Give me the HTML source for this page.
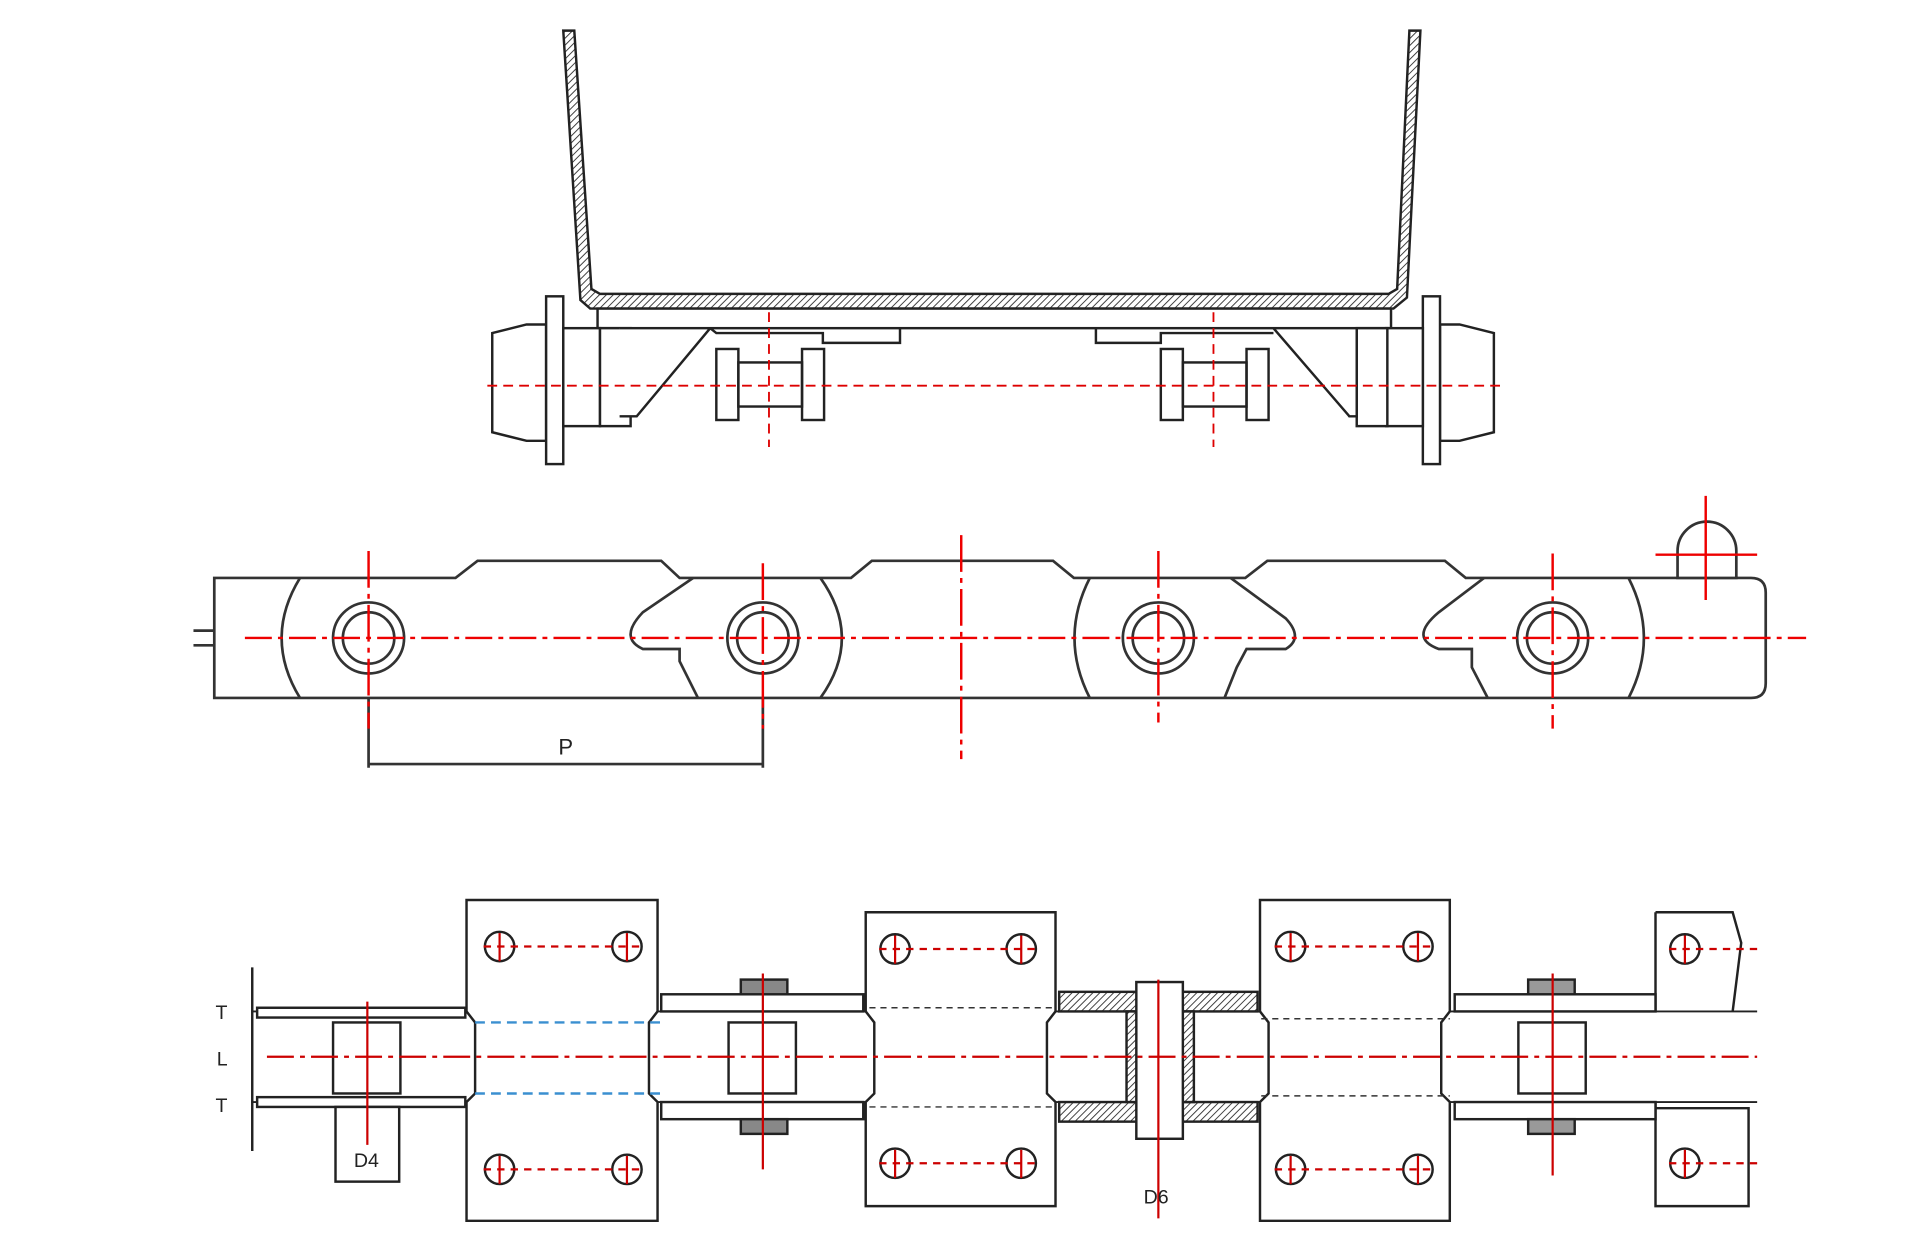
<!DOCTYPE html>
<html><head><meta charset="utf-8"><style>html,body{margin:0;padding:0;background:#fff}svg{display:block}</style></head>
<body>
<svg width="1920" height="1260" viewBox="0 0 1568 1029" xmlns="http://www.w3.org/2000/svg" font-family="Liberation Sans, sans-serif">
<defs>
<pattern id="h" width="4" height="4" patternUnits="userSpaceOnUse" patternTransform="rotate(45)"><rect width="4" height="4" fill="#fff"/><line x1="0" y1="0" x2="0" y2="4" stroke="#333" stroke-width="1.5"/></pattern>
</defs>
<rect width="1568" height="1029" fill="#fff"/>
<g stroke="#222" stroke-width="2" fill="none">
<polygon points="460,25 469,25 483,236 490,240 1134,240 1141,236 1151,25 1160,25 1149,243 1138,252 482,252 474,245" fill="url(#h)"/>
<rect x="488" y="252" width="648" height="16" fill="#fff"/>
<path d="M402,272 L430,265 L446,265 L446,360 L430,360 L402,353 Z" fill="#fff"/>
<rect x="446" y="242" width="14" height="137" fill="#fff"/>
<rect x="460" y="268" width="30" height="80" fill="#fff"/>
<rect x="490" y="268" width="25" height="80" fill="#fff"/>
<path d="M506,268 L580,268 L520,340 L506,340" fill="#fff"/>
<path d="M1106,268 L1060,268 L1102,340 L1118,340"/>
<path d="M1220,272 L1192,265 L1176,265 L1176,360 L1192,360 L1220,353 Z" fill="#fff"/>
<rect x="1162" y="242" width="14" height="137" fill="#fff"/>
<rect x="1132" y="268" width="30" height="80" fill="#fff"/>
<rect x="1108" y="268" width="25" height="80" fill="#fff"/>
<path d="M1040,268 L1108,268 L1108,340 L1102,340 Z" fill="#fff"/>
<path d="M580,268 L585,272 L672,272 L672,280 L735,280 L735,268"/>
<path d="M895,268 L895,280 L948,280 L948,272 L1040,272"/>
<rect x="585" y="285" width="18" height="58" fill="#fff"/><rect x="655" y="285" width="18" height="58" fill="#fff"/>
<rect x="603" y="296" width="52" height="36"/>
<rect x="948" y="285" width="18" height="58" fill="#fff"/><rect x="1018" y="285" width="18" height="58" fill="#fff"/>
<rect x="966" y="296" width="52" height="36"/>
</g>
<g stroke="#d00" stroke-width="1.5" stroke-dasharray="8,5" fill="none">
<line x1="398" y1="315" x2="1230" y2="315"/>
<line x1="628" y1="255" x2="628" y2="365"/><line x1="991" y1="255" x2="991" y2="365"/>
</g>
<g stroke="#333" stroke-width="2.2" fill="none">
<path d="M175,472 L372,472 L390,458 L540,458 L555,472 L695,472 L712,458 L860,458 L877,472 L1017,472 L1035,458 L1180,458 L1197,472 L1430,472 Q1442,472 1442,484 L1442,558 Q1442,570 1430,570 L175,570 Z" fill="#fff"/>
<path d="M245,472 Q215,521 245,570"/>
<path d="M670,472 Q705,521 670,570"/>
<path d="M566,472 L525,500 Q505,521 525,530 L555,530 L555,540 L570,570"/>
<path d="M890,472 Q865,521 890,570"/>
<path d="M1005,472 L1050,505 Q1065,521 1050,530 L1018,530 L1010,545 L1000,570"/>
<path d="M1212,472 L1175,500 Q1150,521 1175,530 L1202,530 L1202,545 L1215,570"/>
<path d="M1330,472 Q1355,521 1330,570"/>
<path d="M1370,450 A24,24 0 0 1 1418,450 L1418,472 L1370,472 Z" fill="#fff"/>
<line x1="158" y1="515" x2="175" y2="515"/><line x1="158" y1="527" x2="175" y2="527"/>
<g fill="#fff"><circle cx="301" cy="521" r="29"/><circle cx="623" cy="521" r="29"/><circle cx="946" cy="521" r="29"/><circle cx="1268" cy="521" r="29"/></g>
<circle cx="301" cy="521" r="21"/><circle cx="623" cy="521" r="21"/><circle cx="946" cy="521" r="21"/><circle cx="1268" cy="521" r="21"/>
<path d="M301,570 L301,627 M623,570 L623,627 M301,624 L623,624"/>
</g>
<text x="456" y="616" font-size="18" fill="#222">P</text>
<g stroke="#e00" stroke-width="2" fill="none">
<line x1="200" y1="521" x2="1475" y2="521" stroke-dasharray="22,5,4,5"/>
<line x1="301" y1="450" x2="301" y2="595" stroke-dasharray="30,5,4,5"/>
<line x1="623" y1="460" x2="623" y2="595" stroke-dasharray="30,5,4,5"/>
<line x1="946" y1="450" x2="946" y2="590" stroke-dasharray="30,5,4,5"/>
<line x1="1268" y1="452" x2="1268" y2="595" stroke-dasharray="30,5,4,5"/>
<line x1="785" y1="437" x2="785" y2="620" stroke-dasharray="30,5,4,5"/>
<line x1="1393" y1="405" x2="1393" y2="490"/><line x1="1352" y1="453" x2="1435" y2="453"/>
</g>
<g stroke="#222" stroke-width="2" fill="none">
<path d="M205,826 L1435,826 M205,900 L1435,900" stroke-width="1.5"/>
<rect x="210" y="823" width="170" height="8" fill="#fff"/><rect x="210" y="896" width="170" height="8" fill="#fff"/>
<path d="M381,735 L537,735 L537,826 L530,835 L530,893 L537,900 L537,997 L381,997 L381,900 L388,893 L388,835 L381,826 Z" fill="#fff"/>
<path d="M707,745 L862,745 L862,826 L855,835 L855,893 L862,900 L862,985 L707,985 L707,900 L714,893 L714,835 L707,826 Z" fill="#fff"/>
<path d="M1029,735 L1184,735 L1184,826 L1177,835 L1177,893 L1184,900 L1184,997 L1029,997 L1029,900 L1036,893 L1036,835 L1029,826 Z" fill="#fff"/>
<path d="M1352,745 L1415,745 L1422,770 L1415,826 M1352,745 L1352,826"/>
<path d="M1352,900 L1352,985 L1428,985 L1428,905 L1345,905"/>
<rect x="540" y="812" width="165" height="14" fill="#fff"/><rect x="540" y="900" width="165" height="14" fill="#fff"/>
<rect x="1188" y="812" width="164" height="14" fill="#fff"/><rect x="1188" y="900" width="164" height="14" fill="#fff"/>
<rect x="865" y="810" width="162" height="16" fill="url(#h)"/><rect x="865" y="900" width="162" height="16" fill="url(#h)"/>
<rect x="920" y="826" width="55" height="74" fill="url(#h)"/>
<rect x="928" y="802" width="38" height="128" fill="#fff"/>
<rect x="595" y="835" width="55" height="58" fill="#fff"/>
<rect x="605" y="800" width="38" height="12" fill="#888"/><rect x="605" y="914" width="38" height="12" fill="#888"/>
<rect x="1240" y="835" width="55" height="58" fill="#fff"/>
<rect x="1248" y="800" width="38" height="12" fill="#999"/><rect x="1248" y="914" width="38" height="12" fill="#999"/>
<rect x="272" y="835" width="55" height="58" fill="#fff"/>
<rect x="274" y="904" width="52" height="61" fill="#fff"/>
<line x1="206" y1="790" x2="206" y2="940"/>
<g fill="#fff">
<circle cx="408" cy="773" r="12"/><circle cx="512" cy="773" r="12"/><circle cx="408" cy="955" r="12"/><circle cx="512" cy="955" r="12"/>
<circle cx="731" cy="775" r="12"/><circle cx="834" cy="775" r="12"/><circle cx="731" cy="950" r="12"/><circle cx="834" cy="950" r="12"/>
<circle cx="1054" cy="773" r="12"/><circle cx="1158" cy="773" r="12"/><circle cx="1054" cy="955" r="12"/><circle cx="1158" cy="955" r="12"/>
<circle cx="1376" cy="775" r="12"/><circle cx="1376" cy="950" r="12"/></g>
</g>
<g stroke="#333" stroke-width="1.2" stroke-dasharray="5,4"><line x1="710" y1="823" x2="862" y2="823"/><line x1="710" y1="904" x2="862" y2="904"/><line x1="1030" y1="832" x2="1184" y2="832"/><line x1="1030" y1="895" x2="1184" y2="895"/></g>
<g stroke="#3a8fd0" stroke-width="2" stroke-dasharray="8,5"><line x1="388" y1="835" x2="540" y2="835"/><line x1="388" y1="893" x2="540" y2="893"/></g>
<g stroke="#c00" stroke-width="1.8" fill="none">
<line x1="218" y1="863" x2="1435" y2="863" stroke-dasharray="22,5,4,5"/>
<g stroke-dasharray="6,5"><line x1="395" y1="773" x2="525" y2="773"/><line x1="395" y1="955" x2="525" y2="955"/><line x1="718" y1="775" x2="847" y2="775"/><line x1="718" y1="950" x2="847" y2="950"/><line x1="1041" y1="773" x2="1171" y2="773"/><line x1="1041" y1="955" x2="1171" y2="955"/><line x1="1363" y1="775" x2="1438" y2="775"/><line x1="1363" y1="950" x2="1438" y2="950"/></g>
<line x1="300" y1="818" x2="300" y2="935"/><line x1="623" y1="795" x2="623" y2="955"/><line x1="946" y1="800" x2="946" y2="995"/><line x1="1268" y1="795" x2="1268" y2="960"/>
<line x1="408" y1="762" x2="408" y2="785"/><line x1="512" y1="762" x2="512" y2="785"/><line x1="408" y1="944" x2="408" y2="967"/><line x1="512" y1="944" x2="512" y2="967"/>
<line x1="731" y1="764" x2="731" y2="787"/><line x1="834" y1="764" x2="834" y2="787"/><line x1="731" y1="939" x2="731" y2="962"/><line x1="834" y1="939" x2="834" y2="962"/>
<line x1="1054" y1="762" x2="1054" y2="785"/><line x1="1158" y1="762" x2="1158" y2="785"/><line x1="1054" y1="944" x2="1054" y2="967"/><line x1="1158" y1="944" x2="1158" y2="967"/>
<line x1="1376" y1="764" x2="1376" y2="787"/><line x1="1376" y1="939" x2="1376" y2="962"/>
</g>
<g font-size="16" fill="#222">
<text x="176" y="832">T</text><text x="177" y="870">L</text><text x="176" y="908">T</text>
<text x="289" y="953">D4</text><text x="934" y="983">D6</text>
</g>
</svg>
</body></html>
